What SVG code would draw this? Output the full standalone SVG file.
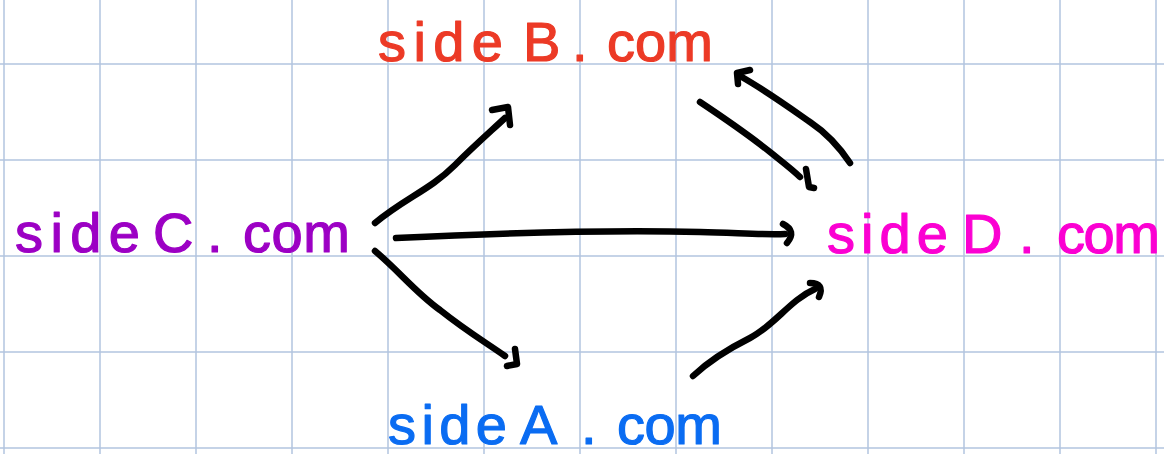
<svg xmlns="http://www.w3.org/2000/svg" width="1164" height="454" viewBox="0 0 1164 454">
<style>
.grid line{stroke:#b2c5df;stroke-width:1.5}
.lbl{font-family:"Liberation Sans",Arial,sans-serif;font-size:56px;stroke-width:1.2;stroke-linejoin:round}
.edge{fill:none;stroke:#000;stroke-width:6.5;stroke-linecap:round;stroke-linejoin:round}
</style>
<rect width="1164" height="454" fill="#fff"/>
<g class="grid">
<line x1="4" y1="0" x2="4" y2="454"/><line x1="100" y1="0" x2="100" y2="454"/><line x1="196" y1="0" x2="196" y2="454"/><line x1="292" y1="0" x2="292" y2="454"/><line x1="388" y1="0" x2="388" y2="454"/><line x1="484" y1="0" x2="484" y2="454"/><line x1="580" y1="0" x2="580" y2="454"/><line x1="676" y1="0" x2="676" y2="454"/><line x1="772" y1="0" x2="772" y2="454"/><line x1="868" y1="0" x2="868" y2="454"/><line x1="964" y1="0" x2="964" y2="454"/><line x1="1060" y1="0" x2="1060" y2="454"/><line x1="1156" y1="0" x2="1156" y2="454"/>
<line x1="0" y1="64" x2="1164" y2="64"/><line x1="0" y1="160" x2="1164" y2="160"/><line x1="0" y1="256" x2="1164" y2="256"/><line x1="0" y1="352" x2="1164" y2="352"/><line x1="0" y1="448" x2="1164" y2="448"/>
</g>
<g id="sideB">
<text class="lbl" fill="#ec3a26" stroke="#ec3a26" y="61"><tspan x="378" textLength="125" lengthAdjust="spacing">side</tspan><tspan x="523">B</tspan><tspan x="572">.</tspan><tspan x="607" textLength="106" lengthAdjust="spacing">com</tspan></text>
</g>
<g id="sideC">
<text class="lbl" fill="#9c00c4" stroke="#9c00c4" y="252"><tspan x="15" textLength="125" lengthAdjust="spacing">side</tspan><tspan x="153">C</tspan><tspan x="207">.</tspan><tspan x="243" textLength="107" lengthAdjust="spacing">com</tspan></text>
</g>
<g id="sideD">
<text class="lbl" fill="#fb00d2" stroke="#fb00d2" y="253"><tspan x="827" textLength="121" lengthAdjust="spacing">side</tspan><tspan x="962">D</tspan><tspan x="1019">.</tspan><tspan x="1057" textLength="103" lengthAdjust="spacing">com</tspan></text>
</g>
<g id="sideA">
<text class="lbl" fill="#0a6cf2" stroke="#0a6cf2" y="444"><tspan x="388" textLength="119" lengthAdjust="spacing">side</tspan><tspan x="520">A</tspan><tspan x="581">.</tspan><tspan x="617" textLength="105" lengthAdjust="spacing">com</tspan></text>
</g>
<g id="connectors">
<path class="edge" d="M375,223 C405,198 430,190 455,165 C475,145 490,132 505,118"/>
<path class="edge" d="M492,110 L508,107 L510,125"/>
<path class="edge" d="M396,238 C500,233 620,230 700,232 C740,233 765,235 785,234"/>
<path class="edge" d="M783,224 Q797,231 787,243"/>
<path class="edge" d="M375,251 C400,272 415,292 440,310 C465,330 485,342 505,356"/>
<path class="edge" d="M515,349 L517,364 L507,366"/>
<path class="edge" d="M700,102 C730,122 755,140 770,152 C785,164 793,170 800,177"/>
<path class="edge" d="M806,169 L809,187 L814,188"/>
<path class="edge" d="M850,163 C840,148 825,132 810,122 C790,108 765,90 740,76"/>
<path class="edge" d="M738,84 L737,73 L750,70"/>
<path class="edge" d="M693,376 C710,360 730,348 750,338 C775,325 790,300 815,289"/>
<path class="edge" d="M810,283 Q825,283 819,297"/>
</g>
</svg>
